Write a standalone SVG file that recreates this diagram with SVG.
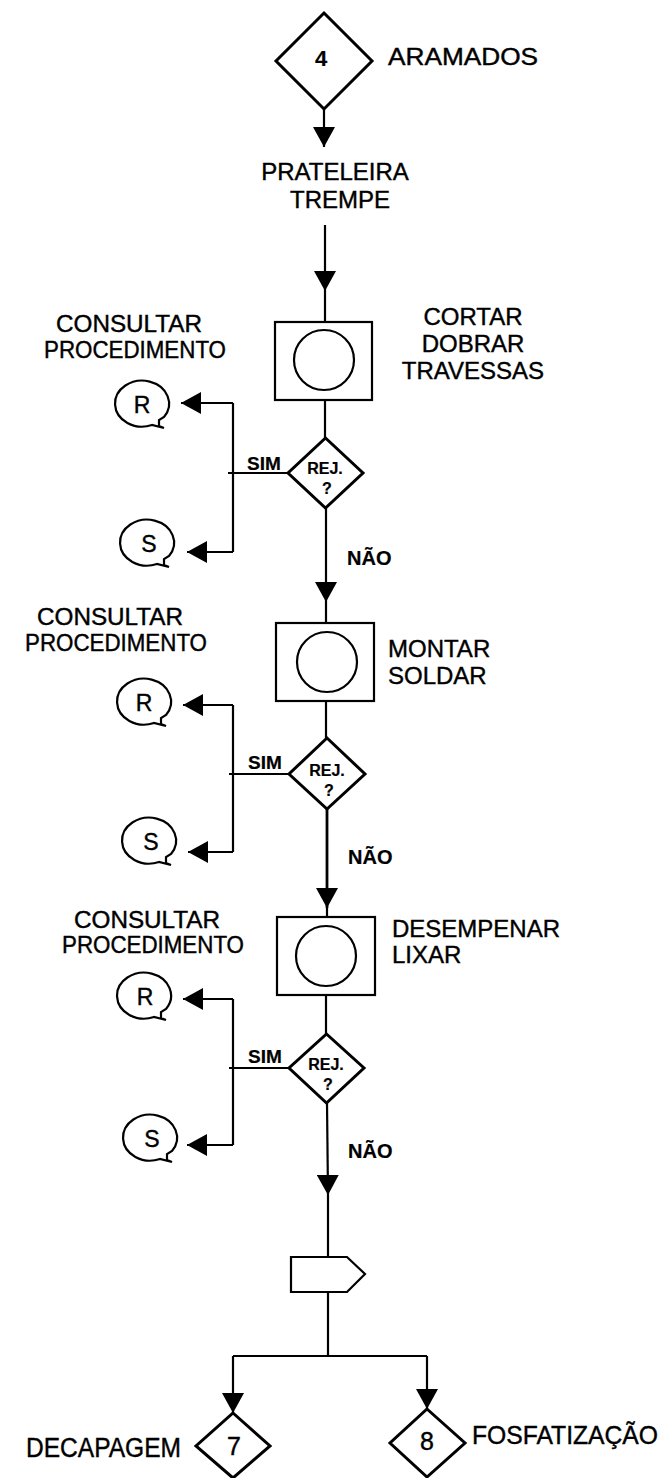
<svg xmlns="http://www.w3.org/2000/svg" width="672" height="1478" viewBox="0 0 672 1478">
<style>
text{font-family:"Liberation Sans",Arial,sans-serif;fill:#000;stroke:#000;stroke-width:0.4}
.lbl{font-size:23px}
.big{font-size:24px}
.b{font-weight:bold;stroke-width:0.2}
.ln{stroke:#000;stroke-width:2.2;fill:none}
.arr{stroke:#000;stroke-width:2.2;fill:none;marker-end:url(#ah)}
.shp{stroke:#000;stroke-width:2.4;fill:#fff}
.dia{stroke:#000;stroke-width:3;fill:#fff}
.mid{text-anchor:middle}
</style>
<defs>
<marker id="ah" viewBox="0 0 20 22" markerUnits="userSpaceOnUse" markerWidth="20" markerHeight="22" refX="20" refY="11" orient="auto">
<path d="M0,0 L20,11 L0,22 Z" fill="#000"/>
</marker>
<path id="bub" d="M11,20 A27 23 0 1 1 23,12 L18,15 L18,21 L23,23 Z" fill="#fff" stroke="#000" stroke-width="2.2"/>
</defs>
<rect width="672" height="1478" fill="#fff"/>

<g id="connectors">
<line class="arr" x1="324" y1="109" x2="324" y2="147"/>
<line class="arr" x1="325" y1="225" x2="325" y2="291"/>
<line class="ln" x1="325" y1="291" x2="325" y2="322"/>
<line class="ln" x1="325" y1="400" x2="325" y2="438"/>
<line class="arr" x1="326" y1="508" x2="326" y2="602"/>
<line class="ln" x1="326" y1="602" x2="326" y2="623"/>
<line class="ln" x1="288" y1="473" x2="228" y2="473"/>
<line class="ln" x1="233" y1="403" x2="233" y2="552"/>
<line class="arr" x1="233" y1="403" x2="181" y2="403"/>
<line class="arr" x1="233" y1="552" x2="187" y2="552"/>
<line class="ln" x1="326" y1="701" x2="326" y2="738"/>
<line class="ln" x1="289" y1="774" x2="229" y2="774"/>
<line class="ln" x1="233" y1="705" x2="233" y2="852"/>
<line class="arr" x1="233" y1="705" x2="183" y2="705"/>
<line class="arr" x1="233" y1="852" x2="188" y2="852"/>
<line class="arr" x1="327" y1="809" x2="327" y2="908" style="stroke-width:2.8"/>
<line class="ln" x1="327" y1="908" x2="327" y2="917"/>
<line class="ln" x1="326" y1="995" x2="326" y2="1034"/>
<line class="ln" x1="289" y1="1068" x2="229" y2="1068"/>
<line class="ln" x1="233" y1="999" x2="233" y2="1145"/>
<line class="arr" x1="233" y1="999" x2="183" y2="999"/>
<line class="arr" x1="233" y1="1145" x2="187" y2="1145"/>
<line class="arr" x1="327" y1="1103" x2="328" y2="1195"/>
<line class="ln" x1="328" y1="1195" x2="328" y2="1257"/>
<line class="ln" x1="328" y1="1292" x2="328" y2="1356"/>
<line class="ln" x1="233" y1="1356" x2="427" y2="1356"/>
<line class="arr" x1="233" y1="1356" x2="233" y2="1413"/>
<line class="arr" x1="427" y1="1356" x2="427" y2="1409"/>
<text class="b" x="247" y="470" style="font-size:19px">SIM</text>
<text class="b" x="248" y="769" style="font-size:19px">SIM</text>
<text class="b" x="248" y="1063" style="font-size:19px">SIM</text>
<text class="b" x="347" y="565" style="font-size:20px">NÃO</text>
<text class="b" x="348" y="864" style="font-size:20px">NÃO</text>
<text class="b" x="348" y="1158" style="font-size:20px">NÃO</text>
</g>

<g id="start4">
<polygon class="dia" points="324,13 372,61 324,109 276,61"/>
<text class="b mid" x="321" y="66" style="font-size:22px">4</text>
<text x="388" y="65" style="font-size:23px" textLength="150" lengthAdjust="spacingAndGlyphs">ARAMADOS</text>
</g>

<g id="label-prateleira">
<text class="big mid" x="335" y="180">PRATELEIRA</text>
<text class="big mid" x="340" y="208">TREMPE</text>
</g>

<g id="op1">
<rect class="shp" x="275" y="322" width="97" height="78" style="stroke-width:2.2"/>
<circle cx="324" cy="360" r="30" fill="none" stroke="#000" stroke-width="2.2"/>
<text class="big mid" x="473" y="325">CORTAR</text>
<text class="big mid" x="473" y="352">DOBRAR</text>
<text class="big mid" x="473" y="379">TRAVESSAS</text>
</g>

<g id="dec1">
<polygon class="dia" points="325.5,438 363,473 325.5,508 288,473"/>
<text class="b mid" x="325" y="474" style="font-size:16px">REJ.</text>
<text class="b mid" x="327" y="494" style="font-size:16px">?</text>
</g>

<g id="note1">
<text class="lbl" x="56" y="332" textLength="146" lengthAdjust="spacingAndGlyphs">CONSULTAR</text>
<text class="lbl" x="44" y="358" textLength="182" lengthAdjust="spacingAndGlyphs">PROCEDIMENTO</text>
</g>
<g id="r1"><use href="#bub" x="141" y="405"/><text class="lbl mid" x="142" y="413">R</text></g>
<g id="s1"><use href="#bub" x="146" y="544"/><text class="lbl mid" x="149" y="552">S</text></g>

<g id="op2">
<rect class="shp" x="276" y="623" width="98" height="78" style="stroke-width:2.2"/>
<circle cx="327" cy="662" r="30" fill="none" stroke="#000" stroke-width="2.2"/>
<text class="big" x="388" y="657">MONTAR</text>
<text class="big" x="388" y="684">SOLDAR</text>
</g>

<g id="dec2">
<polygon class="dia" points="327,738 365,774 327,809 289,774"/>
<text class="b mid" x="327" y="776" style="font-size:16px">REJ.</text>
<text class="b mid" x="329" y="796" style="font-size:16px">?</text>
</g>

<g id="note2">
<text class="lbl" x="37" y="625" textLength="146" lengthAdjust="spacingAndGlyphs">CONSULTAR</text>
<text class="lbl" x="25" y="651" textLength="182" lengthAdjust="spacingAndGlyphs">PROCEDIMENTO</text>
</g>
<g id="r2"><use href="#bub" x="143" y="703"/><text class="lbl mid" x="144" y="711">R</text></g>
<g id="s2"><use href="#bub" x="148" y="842"/><text class="lbl mid" x="151" y="850">S</text></g>

<g id="op3">
<rect class="shp" x="277" y="917" width="98" height="78" style="stroke-width:2.2"/>
<circle cx="326" cy="956" r="30" fill="none" stroke="#000" stroke-width="2.2"/>
<text class="big" x="392" y="937">DESEMPENAR</text>
<text class="big" x="392" y="963">LIXAR</text>
</g>

<g id="dec3">
<polygon class="dia" points="326.5,1034 364,1068 326.5,1103 289,1068"/>
<text class="b mid" x="326" y="1070" style="font-size:16px">REJ.</text>
<text class="b mid" x="328" y="1090" style="font-size:16px">?</text>
</g>

<g id="note3">
<text class="lbl" x="74" y="928" textLength="146" lengthAdjust="spacingAndGlyphs">CONSULTAR</text>
<text class="lbl" x="62" y="953" textLength="182" lengthAdjust="spacingAndGlyphs">PROCEDIMENTO</text>
</g>
<g id="r3"><use href="#bub" x="143" y="997"/><text class="lbl mid" x="145" y="1005">R</text></g>
<g id="s3"><use href="#bub" x="149" y="1139"/><text class="lbl mid" x="152" y="1147">S</text></g>

<g id="offpage">
<polygon class="shp" points="291,1257 347,1257 365,1274 347,1292 291,1292" style="stroke-width:2.2"/>
</g>

<g id="end7">
<polygon class="dia" points="233,1413 270,1446 233,1478 196,1446"/>
<text class="mid" x="234" y="1455" style="font-size:25px">7</text>
<text x="26" y="1457" style="font-size:27px" textLength="155" lengthAdjust="spacingAndGlyphs">DECAPAGEM</text>
</g>

<g id="end8">
<polygon class="dia" points="427,1409 465,1443 427,1477 390,1443"/>
<text class="mid" x="427" y="1450" style="font-size:25px">8</text>
<text x="472" y="1444" style="font-size:26px" textLength="186" lengthAdjust="spacingAndGlyphs">FOSFATIZAÇÃO</text>
</g>
</svg>
